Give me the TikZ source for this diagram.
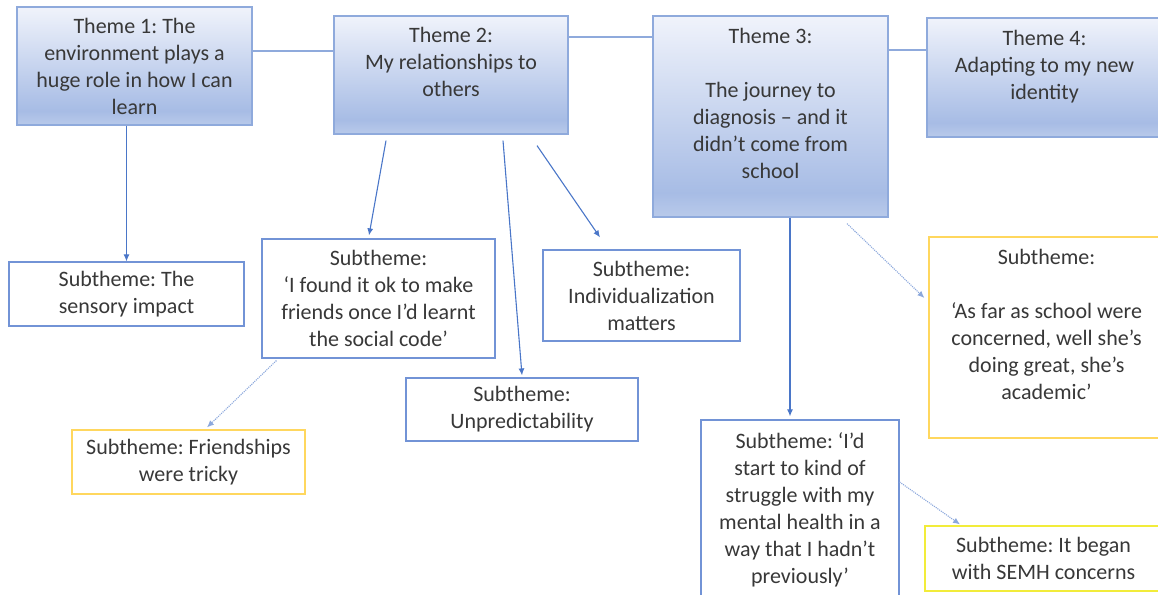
\documentclass[tikz,border=0pt]{standalone}
\usepackage{fontspec}
\setmainfont{Carlito}
\usetikzlibrary{arrows.meta, positioning}
\frenchspacing

\definecolor{themeedge}{HTML}{8FAADC}
\definecolor{themetop}{HTML}{F0F3FB}
\definecolor{themebot}{HTML}{A7BCE5}
\definecolor{themelow}{HTML}{B9CAEA}
\definecolor{subblue}{HTML}{7293D6}
\definecolor{subyellow}{HTML}{FFD75E}
\definecolor{semhyellow}{HTML}{F2EC3A}
\definecolor{arrblue}{HTML}{4A76C8}
\definecolor{dotblue}{HTML}{8CA8DC}
\definecolor{txtgrey}{HTML}{383838}

\pgfdeclareverticalshading{themeshade}{100bp}{color(0bp)=(themelow); color(25bp)=(themelow); color(31bp)=(themebot); color(75bp)=(themetop); color(100bp)=(themetop)}

\begin{document}
\begin{tikzpicture}[x=1pt, y=-1pt, >={Latex[length=7pt,width=6pt]},
  font=\fontsize{22}{27}\selectfont, text=txtgrey,
  theme/.style={draw=themeedge, line width=1.2pt, shading=themeshade, inner sep=0pt},
  themetxt/.style={align=center, inner sep=0pt},
  sub/.style={draw=subblue, line width=1.2pt, fill=white, align=center, inner sep=0pt},
  subyel/.style={sub, draw=subyellow},
  link/.style={draw=themeedge, line width=1.2pt},
  arr/.style={->, draw=arrblue, line width=1.1pt},
  dotarr/.style={->, draw=dotblue, line width=1.1pt, densely dotted}]

\useasboundingbox (0,0) rectangle (1158,594);

%themes
\node[theme, minimum width=235pt, minimum height=118pt] (t1) at (134.5,66) {};
\node[themetxt, below=11.5pt of t1.north] (t1text) {Theme 1: The\\environment plays a\\huge role in how I can\\learn};

\node[theme, minimum width=234pt, minimum height=118pt] (t2) at (451,75) {};
\node[themetxt, below=12pt of t2.north] (t2text) {Theme 2:\\My relationships to\\others};

\node[theme, minimum width=235pt, minimum height=201pt] (t3) at (770.5,116.5) {};
\node[themetxt, below=12.5pt of t3.north] (t3text) {Theme 3:\\[27pt]The journey to\\diagnosis – and it\\didn’t come from\\school};

\node[theme, minimum width=235pt, minimum height=119pt] (t4) at (1044.5,77.5) {};
\node[themetxt, below=13pt of t4.north] (t4text) {Theme 4:\\Adapting to my new\\identity};

\draw[link] ([yshift=15pt]t1.east) -- ([yshift=15pt]t1.east -| t2.west);
\draw[link] ([yshift=38pt]t2.east) -- ([yshift=38pt]t2.east -| t3.west);
\draw[link] ([yshift=66.5pt]t3.east) -- ([yshift=66.5pt]t3.east -| t4.west);

%subthemes
\node[sub, minimum width=235pt, minimum height=64pt] (s1) at (126.5,294) {Subtheme: The\\sensory impact};
\node[sub, minimum width=233pt, minimum height=119pt] (s2) at (378.5,298.5) {Subtheme:\\‘I found it ok to make\\friends once I’d learnt\\the social code’};
\node[sub, minimum width=197pt, minimum height=91pt] (s3) at (641.5,295.5) {Subtheme:\\Individualization\\matters};
\node[sub, minimum width=232pt, minimum height=63pt] (s4) at (522,409.5) {Subtheme:\\Unpredictability};
\node[subyel, minimum width=233pt, minimum height=64pt] (s5) at (188.5,462) {Subtheme: Friendships\\were tricky};
\node[subyel, minimum width=235pt, minimum height=201pt] (s6) at (1046.5,337.5) {};
\node[themetxt, yshift=13.5pt] (s6text) at (s6.center) {Subtheme:\\[27pt]‘As far as school were\\concerned, well she’s\\doing great, she’s\\academic’};
\node[sub, minimum width=198pt, minimum height=180pt] (s7) at (800,510) {Subtheme: ‘I’d\\start to kind of\\struggle with my\\mental health in a\\way that I hadn’t\\previously’};
\node[subyel, draw=semhyellow, minimum width=237pt, minimum height=65pt] (s8) at (1043.5,558.5) {Subtheme: It began\\with SEMH concerns};

%arrows
\draw[arr] (t1.south -| s1.north) -- (s1.north);
\draw[arr] ([xshift=-65pt, yshift=-6pt]t2.south) -- ([xshift=-9.5pt, yshift=3pt]s2.north);
\draw[arr] ([xshift=52pt, yshift=-6pt]t2.south) -- ([yshift=2pt]s4.north);
\draw[arr] ([xshift=86pt, yshift=-11pt]t2.south) -- ([xshift=-41.5pt, yshift=12pt]s3.north);
\draw[arr] ([xshift=19.5pt]t3.south) -- ([xshift=-10pt, yshift=3pt]s7.north);

\draw[dotarr] ([xshift=15pt, yshift=-2pt]s2.south west) -- ([xshift=18.5pt, yshift=2pt]s5.north);
\draw[dotarr] ([xshift=76.5pt, yshift=-6pt]t3.south) -- ([xshift=-4pt, yshift=39.5pt]s6.west);
\draw[dotarr] ([yshift=28pt]s7.east) -- ([xshift=-83.5pt, yshift=1pt]s8.north);

\end{tikzpicture}
\end{document}
